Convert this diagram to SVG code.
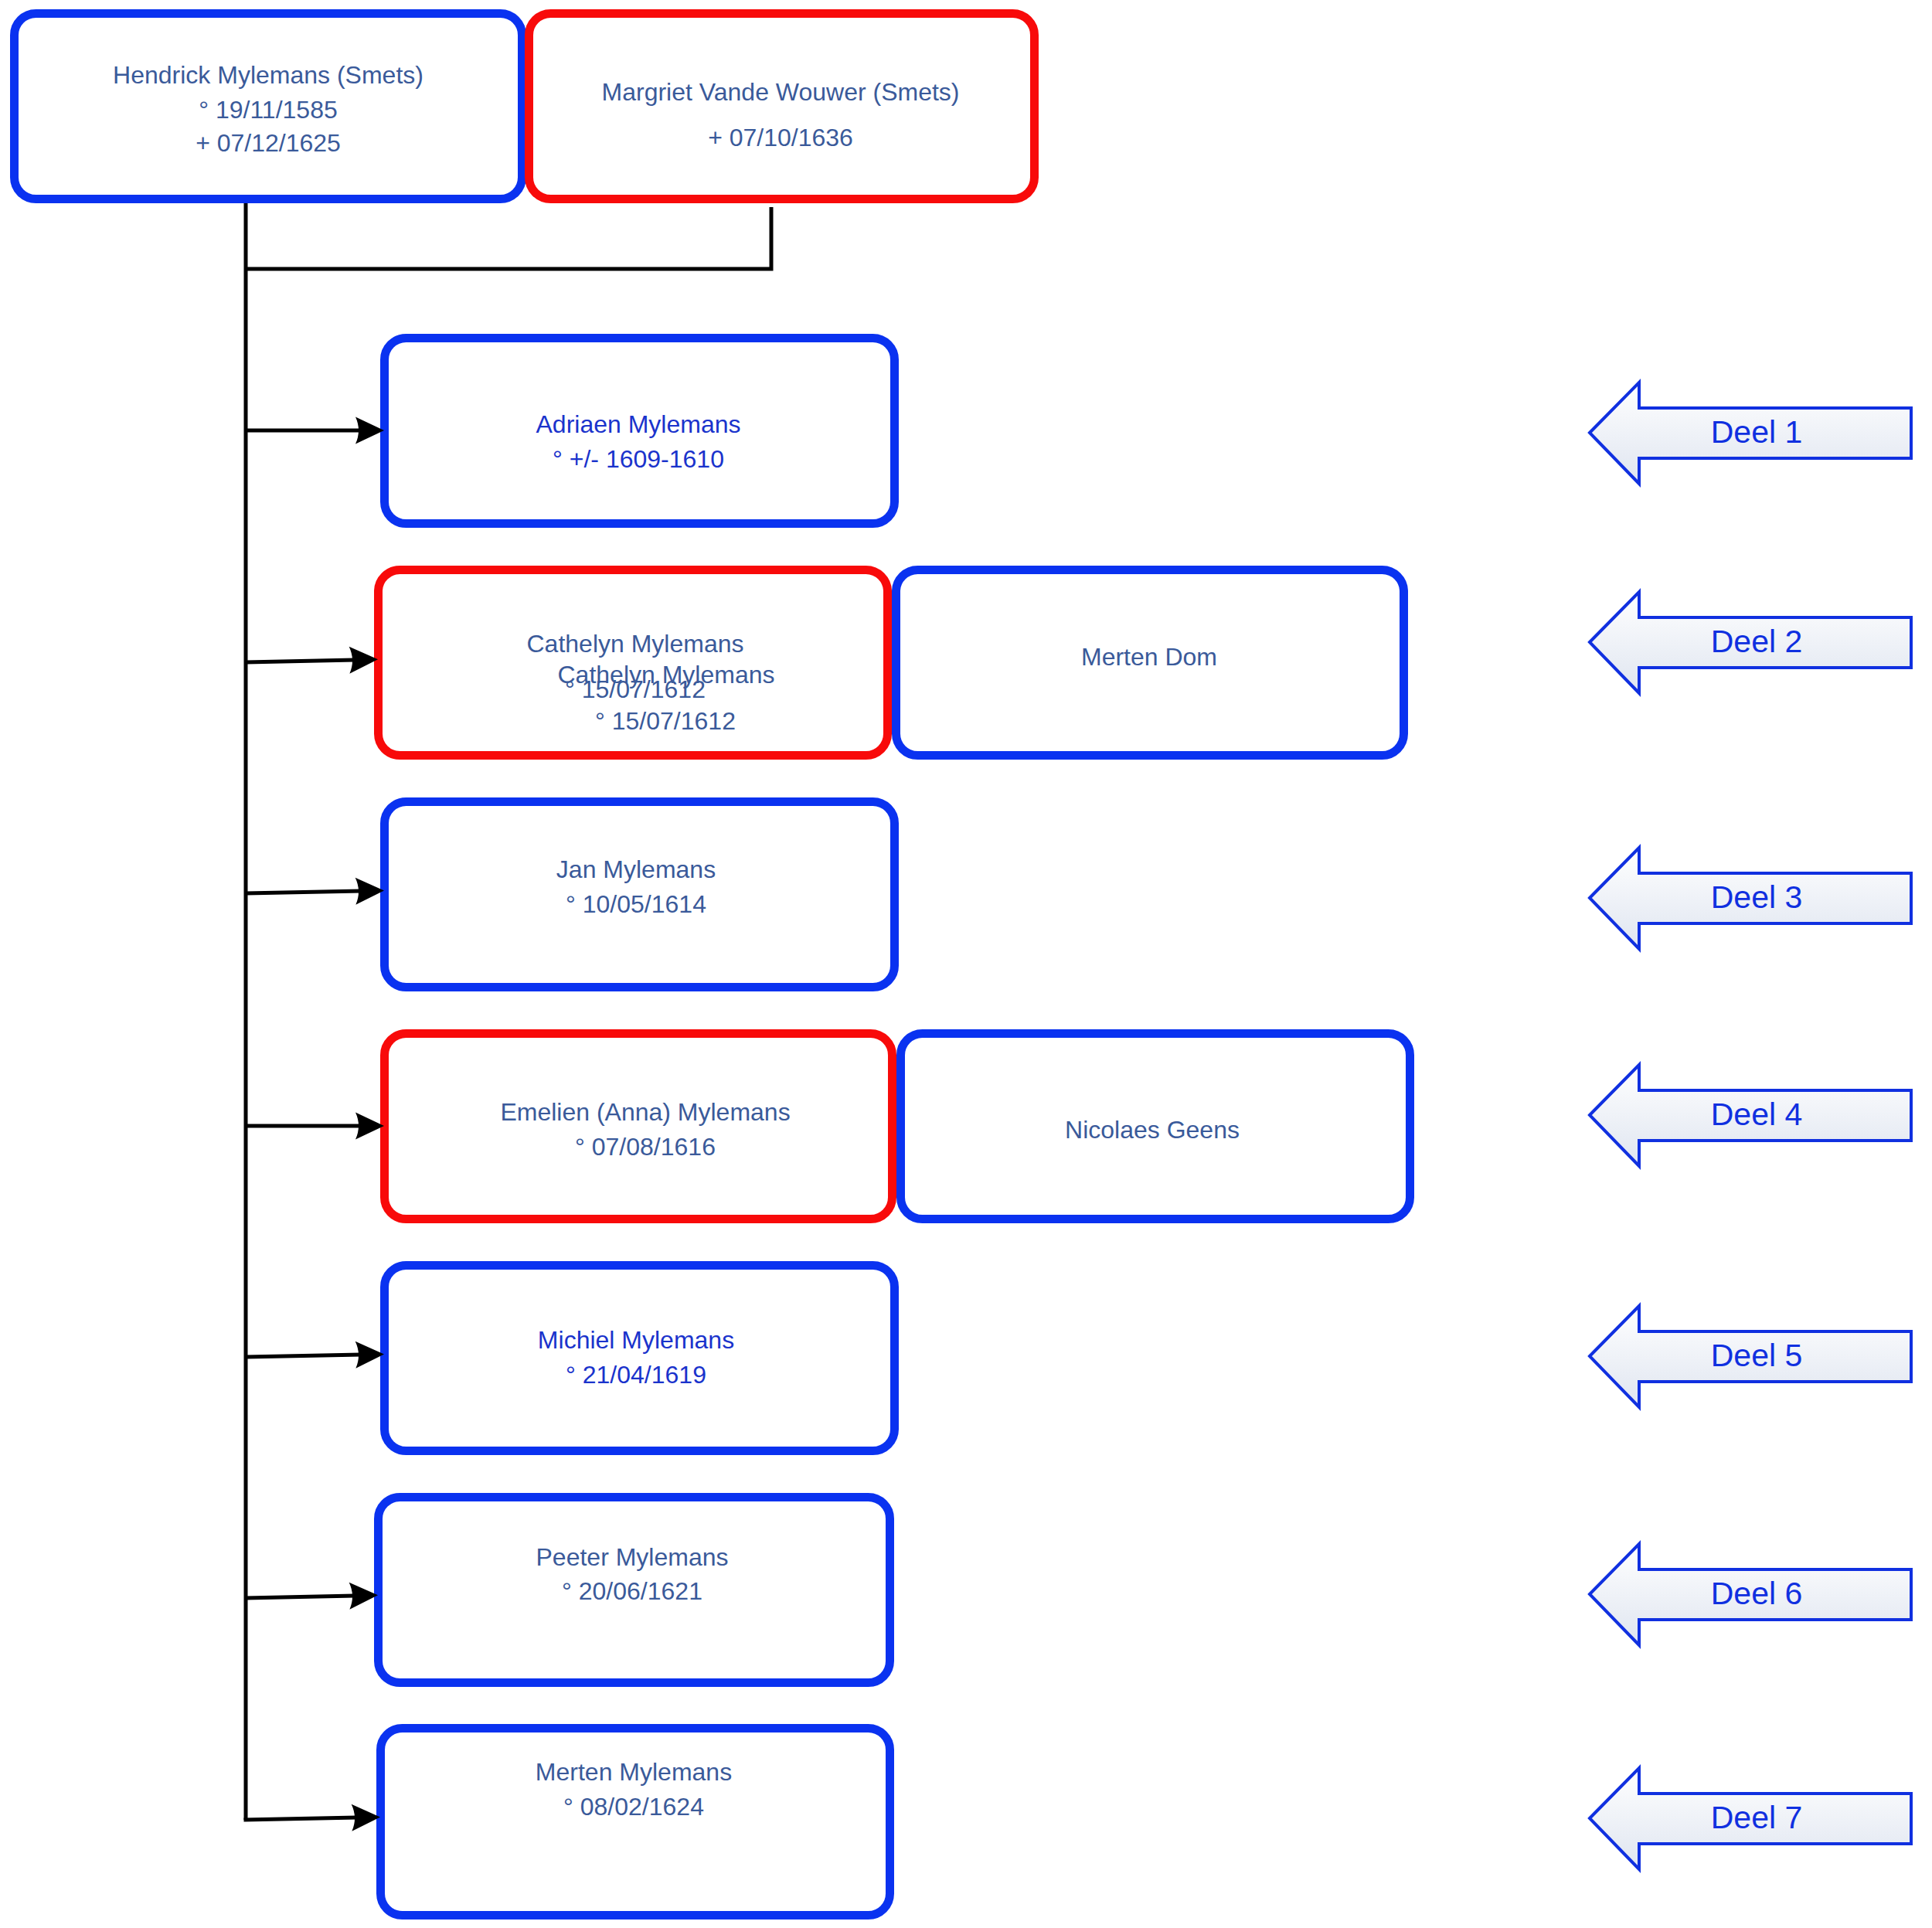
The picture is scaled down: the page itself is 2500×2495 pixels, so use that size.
<svg xmlns="http://www.w3.org/2000/svg" width="2500" height="2495" viewBox="0 0 2500 2495">
<defs>
<style>
.box{fill:#fff;stroke-width:11}
.b{stroke:#0a32f0}
.r{stroke:#f80a0a}
.t{font-family:"Liberation Sans",Arial,sans-serif;font-size:32px;text-anchor:middle;fill:#3a5a9a}
.tb{fill:#1a33cc}
.con{fill:none;stroke:#000;stroke-width:5}
.deel{fill:url(#dg);stroke:#1030e0;stroke-width:4}
.dt{font-family:"Liberation Sans",Arial,sans-serif;font-size:41px;text-anchor:middle;fill:#1030e0}
</style>
<linearGradient id="dg" x1="0" y1="0" x2="0" y2="1">
<stop offset="0" stop-color="#ffffff"/>
<stop offset="1" stop-color="#dfe5f0"/>
</linearGradient>
<marker id="ah" markerUnits="userSpaceOnUse" markerWidth="40" markerHeight="40" viewBox="0 0 40 40" refX="7" refY="20" orient="auto" overflow="visible">
<path d="M0,2.5 L37,20 L0,37.5 Q8,20 0,2.5 z" fill="#000"/>
</marker>
<path id="arr" d="M2057,0 L2121,-65 L2121,-32 L2473,-32 L2473,33 L2121,33 L2121,66 z"/>
</defs>
<rect width="2500" height="2495" fill="#fff"/>
<g id="hendrick">
<rect class="box b" x="18.5" y="17.5" width="657" height="240" rx="28"/>
<text class="t" x="347" y="108">Hendrick Mylemans (Smets)</text>
<text class="t" x="347" y="153">° 19/11/1585</text>
<text class="t" x="347" y="196">+ 07/12/1625</text>
</g>
<g id="margriet">
<rect class="box r" x="684.5" y="17.5" width="654" height="240" rx="28"/>
<text class="t" x="1010" y="130">Margriet Vande Wouwer (Smets)</text>
<text class="t" x="1010" y="189">+ 07/10/1636</text>
</g>
<g id="adriaen">
<rect class="box b" x="497.5" y="437.5" width="660" height="240" rx="28"/>
<text class="t tb" x="826" y="560">Adriaen Mylemans</text>
<text class="t tb" x="826" y="605">° +/- 1609-1610</text>
</g>
<g id="cathelyn">
<rect class="box r" x="489.5" y="737.5" width="659" height="240" rx="28"/>
<text class="t" x="822" y="844">Cathelyn Mylemans</text>
<text class="t" x="822" y="903">° 15/07/1612</text>
<text class="t" x="862" y="884">Cathelyn Mylemans</text>
<text class="t" x="861" y="944">° 15/07/1612</text>
</g>
<g id="merten-dom">
<rect class="box b" x="1159.5" y="737.5" width="657" height="240" rx="28"/>
<text class="t" x="1487" y="861">Merten Dom</text>
</g>
<g id="jan">
<rect class="box b" x="497.5" y="1037.5" width="660" height="240" rx="28"/>
<text class="t" x="823" y="1136">Jan Mylemans</text>
<text class="t" x="823" y="1181">° 10/05/1614</text>
</g>
<g id="emelien">
<rect class="box r" x="497.5" y="1337.5" width="657" height="240" rx="28"/>
<text class="t" x="835" y="1450">Emelien (Anna) Mylemans</text>
<text class="t" x="835" y="1495">° 07/08/1616</text>
</g>
<g id="nicolaes">
<rect class="box b" x="1165.5" y="1337.5" width="659" height="240" rx="28"/>
<text class="t" x="1491" y="1473">Nicolaes Geens</text>
</g>
<g id="michiel">
<rect class="box b" x="497.5" y="1637.5" width="660" height="240" rx="28"/>
<text class="t tb" x="823" y="1745">Michiel Mylemans</text>
<text class="t tb" x="823" y="1790">° 21/04/1619</text>
</g>
<g id="peeter">
<rect class="box b" x="489.5" y="1937.5" width="662" height="240" rx="28"/>
<text class="t" x="818" y="2026">Peeter Mylemans</text>
<text class="t" x="818" y="2070">° 20/06/1621</text>
</g>
<g id="merten-mylemans">
<rect class="box b" x="492.5" y="2236.5" width="659" height="242" rx="28"/>
<text class="t" x="820" y="2304">Merten Mylemans</text>
<text class="t" x="820" y="2349">° 08/02/1624</text>
</g>
<g id="deel1"><use href="#arr" class="deel" transform="translate(0,560)"/><text class="dt" x="2273" y="573">Deel 1</text></g>
<g id="deel2"><use href="#arr" class="deel" transform="translate(0,831)"/><text class="dt" x="2273" y="844">Deel 2</text></g>
<g id="deel3"><use href="#arr" class="deel" transform="translate(0,1162)"/><text class="dt" x="2273" y="1175">Deel 3</text></g>
<g id="deel4"><use href="#arr" class="deel" transform="translate(0,1443)"/><text class="dt" x="2273" y="1456">Deel 4</text></g>
<g id="deel5"><use href="#arr" class="deel" transform="translate(0,1755)"/><text class="dt" x="2273" y="1768">Deel 5</text></g>
<g id="deel6"><use href="#arr" class="deel" transform="translate(0,2063)"/><text class="dt" x="2273" y="2076">Deel 6</text></g>
<g id="deel7"><use href="#arr" class="deel" transform="translate(0,2353)"/><text class="dt" x="2273" y="2366">Deel 7</text></g>
<g id="connectors">
<path class="con" d="M318,263 V2355"/>
<path class="con" d="M318,348 H998 V268"/>
<path class="con" marker-end="url(#ah)" d="M318,557 L467,557"/>
<path class="con" marker-end="url(#ah)" d="M318,857 L459,854"/>
<path class="con" marker-end="url(#ah)" d="M318,1156 L467,1153"/>
<path class="con" marker-end="url(#ah)" d="M318,1457 L467,1457"/>
<path class="con" marker-end="url(#ah)" d="M318,1756 L467,1753"/>
<path class="con" marker-end="url(#ah)" d="M318,2068 L459,2065"/>
<path class="con" marker-end="url(#ah)" d="M315.5,2355 L462,2352"/>
</g>
</svg>
